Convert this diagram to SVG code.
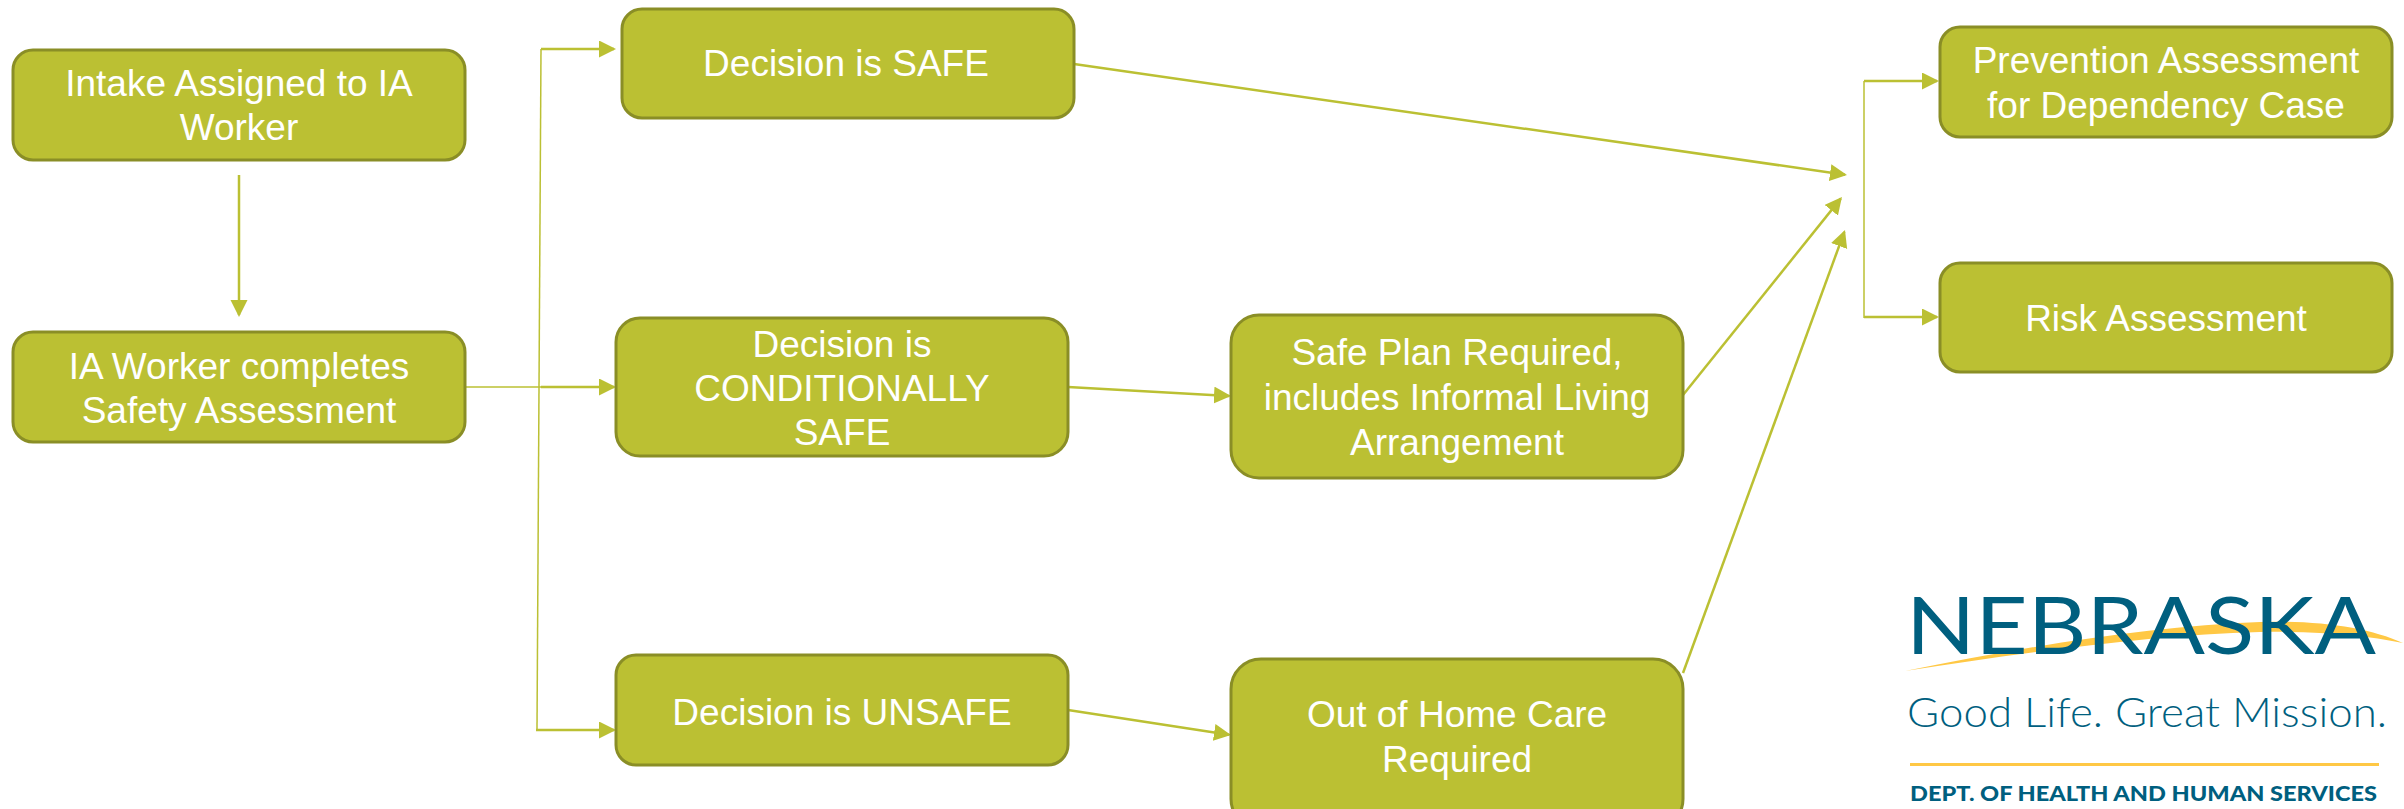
<svg xmlns="http://www.w3.org/2000/svg" width="2404" height="809" viewBox="0 0 2404 809">
<style>
.box{fill:#BBC033;stroke:#8A8E26;stroke-width:3}
.t{font-family:"Liberation Sans",Arial,sans-serif;font-size:37px;fill:#FFFFFF;text-anchor:middle}
.c{fill:none;stroke:#BBC033;stroke-width:2.5;marker-end:url(#a)}
.n{fill:none;stroke:#BBC033;stroke-width:1.5}
.logo{fill:#005F7F}
</style>
<defs>
<marker id="a" markerUnits="userSpaceOnUse" markerWidth="20" markerHeight="20" refX="15" refY="8.500" orient="auto"><path d="M0 0L17 8.500L0 17Z" fill="#BBC033"/></marker>
</defs>
<rect width="2404" height="809" fill="#FFFFFF"/>
<g id="connectors">
<path class="c" d="M239 175V315"/>
<path class="n" d="M465 387H541"/>
<path class="n" d="M541 49L537 730"/>
<path class="c" d="M541 49H614"/>
<path class="c" d="M541 387H614"/>
<path class="c" d="M536 730H614"/>
<path class="c" d="M1074 64L1845 174.700"/>
<path class="c" d="M1068 387L1229 395.900"/>
<path class="c" d="M1068 710L1229 734.700"/>
<path class="c" d="M1683 395L1840.700 198.600"/>
<path class="c" d="M1683 673L1844.300 231.900"/>
<path class="n" d="M1864 81V318"/>
<path class="c" d="M1864 81H1937"/>
<path class="c" d="M1864 317H1937"/>
</g>
<g id="n1"><rect class="box" x="13" y="50" width="452" height="110" rx="20"/><text class="t" x="239" y="96">Intake Assigned to IA</text><text class="t" x="239" y="140">Worker</text></g>
<g id="n2"><rect class="box" x="13" y="332" width="452" height="110" rx="20"/><text class="t" x="239" y="379">IA Worker completes</text><text class="t" x="239" y="423">Safety Assessment</text></g>
<g id="n3"><rect class="box" x="622" y="9" width="452" height="109" rx="20"/><text class="t" x="846" y="76">Decision is SAFE</text></g>
<g id="n4"><rect class="box" x="616" y="318" width="452" height="138" rx="24"/><text class="t" x="842" y="357">Decision is</text><text class="t" x="842" y="401">CONDITIONALLY</text><text class="t" x="842" y="445">SAFE</text></g>
<g id="n5"><rect class="box" x="616" y="655" width="452" height="110" rx="20"/><text class="t" x="842" y="725">Decision is UNSAFE</text></g>
<g id="n6"><rect class="box" x="1231" y="315" width="452" height="163" rx="28"/><text class="t" x="1457" y="365">Safe Plan Required,</text><text class="t" x="1457" y="410">includes Informal Living</text><text class="t" x="1457" y="455">Arrangement</text></g>
<g id="n7"><rect class="box" x="1231" y="659" width="452" height="170" rx="30"/><text class="t" x="1457" y="727">Out of Home Care</text><text class="t" x="1457" y="772">Required</text></g>
<g id="n8"><rect class="box" x="1940" y="27" width="452" height="110" rx="20"/><text class="t" x="2166" y="73">Prevention Assessment</text><text class="t" x="2166" y="118">for Dependency Case</text></g>
<g id="n9"><rect class="box" x="1940" y="263" width="452" height="109" rx="20"/><text class="t" x="2166" y="331">Risk Assessment</text></g>
<g id="logo">
<path d="M1905 671C2030 646 2150 626 2260 622C2320 620 2370 628 2403 643C2365 635 2320 631 2260 632C2150 635 2030 652 1905 671Z" fill="#FFC845"/>
<text class="logo" x="1906" y="654" font-family="Lato,sans-serif" font-size="80" textLength="470" lengthAdjust="spacingAndGlyphs">NEBRASKA</text>
<text class="logo" x="1907" y="727" font-family="Lato,sans-serif" font-weight="300" font-size="41" textLength="480" lengthAdjust="spacingAndGlyphs">Good Life. Great Mission.</text>
<rect x="1910" y="763" width="469" height="3" fill="#FFC845"/>
<text class="logo" x="1910" y="801" font-family="Lato,sans-serif" font-weight="900" font-size="21" textLength="467" lengthAdjust="spacingAndGlyphs">DEPT. OF HEALTH AND HUMAN SERVICES</text>
</g>
</svg>
